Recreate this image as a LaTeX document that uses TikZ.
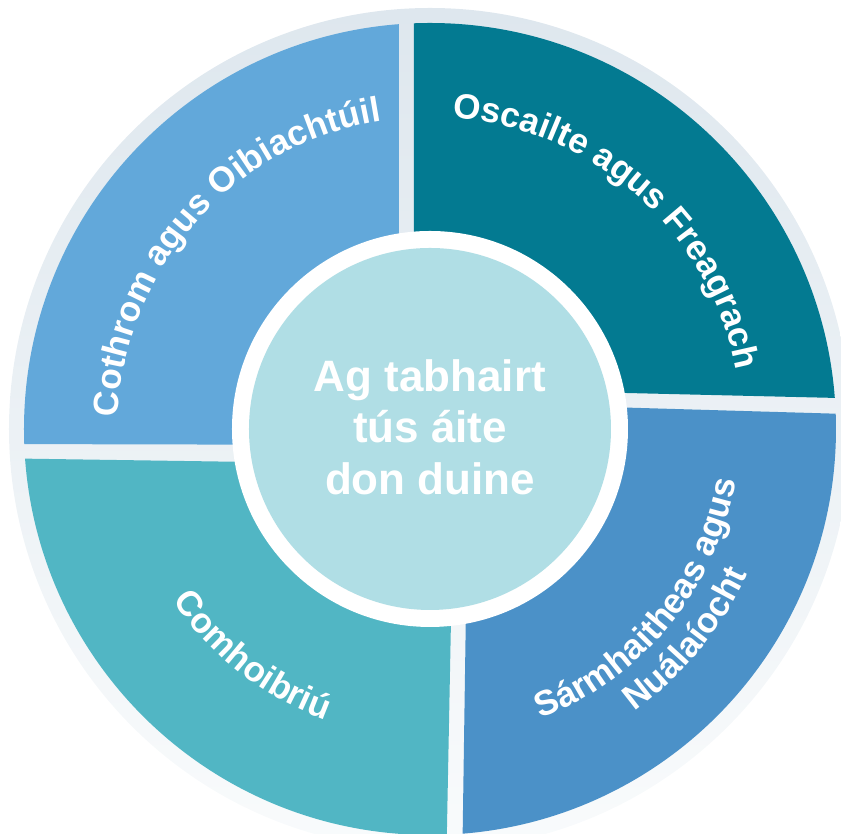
\documentclass[tikz,border=0pt]{standalone}
\usepackage{fontspec}
\setmainfont{Liberation Sans}
\usetikzlibrary{decorations.text}

\definecolor{ringtop}{HTML}{DEE7EE}
\definecolor{ringbot}{HTML}{F9FBFC}
\definecolor{fairblue}{HTML}{62A8DA}
\definecolor{openteal}{HTML}{037A91}
\definecolor{innovblue}{HTML}{4B91C8}
\definecolor{collabteal}{HTML}{51B6C4}
\definecolor{hubblue}{HTML}{B0DEE5}

\newcommand{\ringfont}{\bfseries\fontsize{10}{12}\selectfont}
\newcommand{\hubfont}{\bfseries\fontsize{12.5}{14.7}\selectfont}

\tikzset{
  ringlabel/.style={decorate, decoration={text along path, text align=center,
      text color=white, text={|\ringfont|#1}}},
}

\begin{document}
\begin{tikzpicture}[x=0.01cm, y=0.01cm]
  \useasboundingbox (-430,-405) rectangle (411,429);

  % Outer ring
  \shade[top color=ringtop, bottom color=ringbot] (0,0) circle (421);

  % Segments
  \begin{scope}
    \clip (0,0) circle (406);
    \fill[fairblue] (-31,450) -- (-31,-16) -- (-450,-15) -- (-450,450) -- cycle;
    \fill[openteal] (-16,450) -- (-16,41) -- (450,30) -- (450,450) -- cycle;
    \fill[innovblue] (39,26) -- (450,14) -- (450,-450) -- (32,-450) -- cycle;
    \fill[collabteal] (24,-36) -- (16,-450) -- (-450,-450) -- (-450,-29) -- cycle;
  \end{scope}

  % Hub
  \fill[white] (0,0) circle (198);
  \fill[hubblue] (0,0) circle (181);
  \node[font=\hubfont, text=white, align=center] (hub) at (0,2)
    {Ag tabhairt\\tús áite\\don duine};

  % Labels
  \path[ringlabel={Cothrom agus Oibiachtúil}]
    (183.4:312) arc[start angle=183.4, end angle=93.4, radius=312];
  \path[ringlabel={Oscailte agus Freagrach}]
    (93.4:312) arc[start angle=93.4, end angle=3.4, radius=312];
  \path[ringlabel={Comhoibriú}]
    (192:309) arc[start angle=192, end angle=272, radius=309];
  \path[ringlabel={Sármhaitheas agus}]
    (280.7:310) arc[start angle=280.7, end angle=360.7, radius=310];
  \path[ringlabel={Nuálaíocht}]
    (280.7:349) arc[start angle=280.7, end angle=360.7, radius=349];
\end{tikzpicture}
\end{document}
